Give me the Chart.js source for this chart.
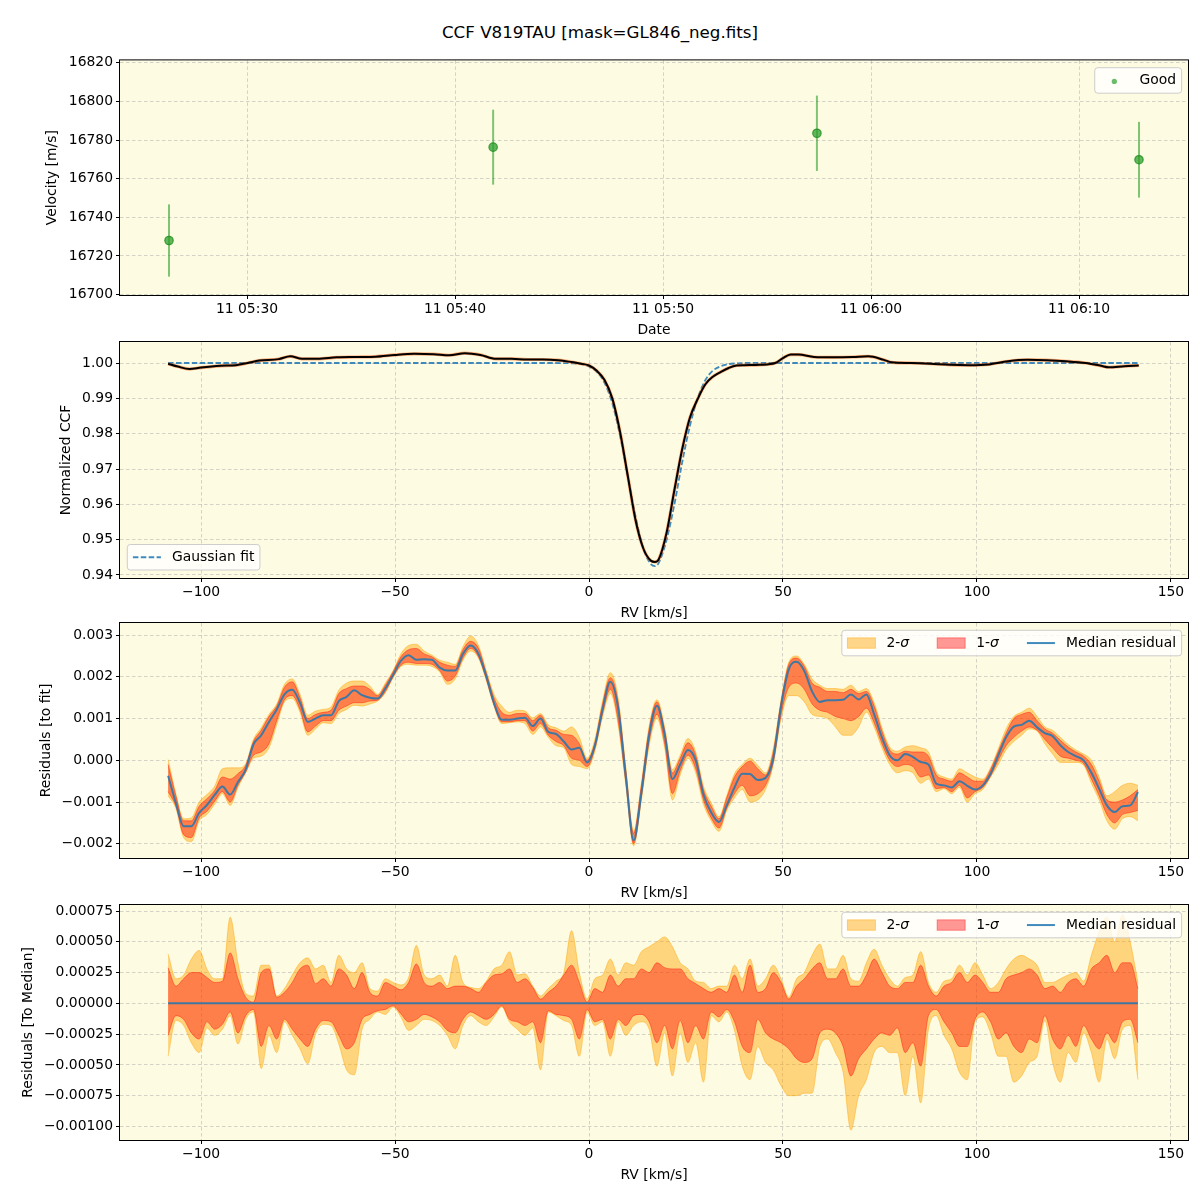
<!DOCTYPE html>
<html>
<head>
<meta charset="utf-8">
<script src="https://cdn.jsdelivr.net/npm/chart.js@4.4.1/dist/chart.umd.min.js"></script>
<style>
  body { margin: 0; background: #fff; width: 1200px; height: 1200px; position: relative; overflow: hidden; font-family: 'DejaVu Sans', sans-serif; }
  canvas { position: absolute; left: 0; }
  #title { position: absolute; top: 22px; left: 0; width: 1200px; text-align: center; font-size: 16.7px; line-height: 20px; color: #000; }
</style>
</head>
<body>
<div id="title">CCF V819TAU [mask=GL846_neg.fits]</div>
<canvas id="c1" width="1200" height="288" style="top:55px"></canvas>
<canvas id="c2" width="1200" height="289" style="top:337px"></canvas>
<canvas id="c3" width="1200" height="288" style="top:618px"></canvas>
<canvas id="c4" width="1200" height="288" style="top:900px"></canvas>
<script>
// ---- panel 1: velocities
const obsTimes = ['05:26:15', '05:41:50', '05:57:24', '06:12:53'];
const obsVel = [16728.0, 16776.3, 16783.5, 16769.8];
const obsErr = [18.7, 19.4, 19.5, 19.6];
const timeTicks = ['05:30', '05:40', '05:50', '06:00', '06:10'];
const velTicks = [16700, 16720, 16740, 16760, 16780, 16800, 16820];

// ---- panel 2: CCF and gaussian fit
const ccfRv = [-108.5, -106, -103, -100, -95, -91, -88, -85, -80, -77, -74, -70, -65, -60, -55, -50, -45, -40, -36, -32,
  -28, -24, -20, -16, -12, -8, -4, -2, 0, 2, 4, 6, 8, 10, 12, 14, 16, 17, 18, 20,
  22, 24, 26, 28, 30, 32, 34, 36, 38, 40, 44, 48, 50, 52, 54, 58, 63, 68, 72, 76,
  78, 83, 88, 93, 98, 103, 108, 113, 118, 123, 128, 132, 134, 138, 141.7];
const ccfVal = [0.9998, 0.9990, 0.9983, 0.9987, 0.9992, 0.9994, 1.0000, 1.0007, 1.0011, 1.0019, 1.0012, 1.0012, 1.0016, 1.0017, 1.0018, 1.0023, 1.0026, 1.0025, 1.0022, 1.0028,
  1.0023, 1.0012, 1.0012, 1.0010, 1.0010, 1.0008, 1.0002, 0.9998, 0.9993, 0.9978, 0.9952, 0.9900, 0.9805, 0.9680, 0.9555, 0.9475, 0.9440, 0.9437, 0.9445, 0.9520,
  0.9640, 0.9755, 0.9845, 0.9898, 0.9940, 0.9962, 0.9975, 0.9986, 0.9993, 0.9994, 0.9995, 1.0000, 1.0014, 1.0024, 1.0024, 1.0017, 1.0016, 1.0017, 1.0019, 1.0009,
  1.0002, 1.0000, 0.9998, 0.9995, 0.9994, 0.9996, 1.0005, 1.0009, 1.0008, 1.0005, 1.0000, 0.9992, 0.9988, 0.9991, 0.9993];
const gaussRv = [-108.5, -10, -4, -2, 0, 2, 4, 6, 8, 10, 12, 14, 16, 17, 18, 20, 22, 24, 26, 28, 30, 32, 34, 36, 38, 40, 141.7];
const gaussVal = [1.0, 1.0, 0.9999, 0.9997, 0.9990, 0.9975, 0.9944, 0.9886, 0.9795, 0.9680, 0.9565, 0.9475, 0.9430, 0.9425, 0.9435, 0.9500, 0.9600, 0.9718, 0.9822, 0.9900,
  0.9952, 0.9979, 0.9991, 0.9997, 0.9999, 1.0, 1.0];
const ccfTicks = [0.94, 0.95, 0.96, 0.97, 0.98, 0.99, 1.00];

// ---- residual grid (km/s)
const rvGrid = [-108.5, -106.5, -104.5, -102.5, -100.5, -98.5, -96.5, -94.5, -92.5, -90.5,
  -88.5, -86.5, -84.5, -82.5, -80.5, -78.5, -76.5, -74.5, -72.5, -70.5,
  -68.5, -66.5, -64.5, -62.5, -60.5, -58.5, -56.5, -54.5, -52.5, -50.5,
  -48.5, -46.5, -44.5, -42.5, -40.5, -38.5, -36.5, -34.5, -32.5, -30.5,
  -28.5, -26.5, -24.5, -22.5, -20.5, -18.5, -16.5, -14.5, -12.5, -10.5,
  -8.5, -6.5, -4.5, -2.5, -0.5, 1.5, 3.5, 5.5, 7.5, 9.5,
  11.5, 13.5, 15.5, 17.5, 19.5, 21.5, 23.5, 25.5, 27.5, 29.5,
  31.5, 33.5, 35.5, 37.5, 39.5, 41.5, 43.5, 45.5, 47.5, 49.5,
  51.5, 53.5, 55.5, 57.5, 59.5, 61.5, 63.5, 65.5, 67.5, 69.5,
  71.5, 73.5, 75.5, 77.5, 79.5, 81.5, 83.5, 85.5, 87.5, 89.5,
  91.5, 93.5, 95.5, 97.5, 99.5, 101.5, 103.5, 105.5, 107.5, 109.5,
  111.5, 113.5, 115.5, 117.5, 119.5, 121.5, 123.5, 125.5, 127.5, 129.5,
  131.5, 133.5, 135.5, 137.5, 139.5, 141.5];

// ---- panel 3: residuals to fit, in units of 1e-3
const fitMedian = [-0.37, -1.02, -1.58, -1.58, -1.26, -1.07, -0.83, -0.63, -0.82, -0.52,
  -0.22, 0.38, 0.60, 0.92, 1.22, 1.58, 1.69, 1.38, 0.92, 1.00,
  1.08, 1.08, 1.42, 1.52, 1.68, 1.56, 1.50, 1.48, 1.72, 2.05,
  2.38, 2.52, 2.41, 2.42, 2.41, 2.22, 2.15, 2.15, 2.55, 2.75,
  2.55, 2.02, 1.38, 0.97, 0.97, 1.00, 1.02, 0.82, 1.00, 0.68,
  0.63, 0.45, 0.26, 0.30, -0.05, 0.35, 1.22, 1.88, 1.25, -0.40,
  -1.92, -0.78, 0.60, 1.31, 0.62, -0.45, -0.10, 0.25, 0.00, -0.82,
  -1.25, -1.48, -1.08, -0.65, -0.32, -0.33, -0.47, -0.42, 0.05, 1.30,
  2.18, 2.36, 2.14, 1.65, 1.40, 1.44, 1.44, 1.45, 1.58, 1.46,
  1.58, 1.10, 0.55, 0.12, 0.00, 0.15, 0.08, -0.04, -0.10, -0.56,
  -0.60, -0.65, -0.50, -0.61, -0.70, -0.60, -0.32, 0.12, 0.55, 0.81,
  0.85, 0.95, 0.79, 0.65, 0.58, 0.36, 0.20, 0.10, 0.00, -0.30,
  -0.68, -1.08, -1.24, -1.10, -1.08, -0.76];
const fitLo2 = [-0.85, -1.15, -1.85, -1.95, -1.45, -1.30, -1.05, -0.80, -1.08, -0.65,
  -0.30, 0.05, 0.10, 0.30, 0.85, 1.40, 1.48, 1.15, 0.60, 0.75,
  0.90, 0.88, 1.12, 1.22, 1.32, 1.30, 1.35, 1.42, 1.62, 1.98,
  2.25, 2.30, 2.28, 2.28, 2.25, 2.12, 1.82, 1.95, 2.40, 2.62,
  2.45, 1.92, 1.30, 0.88, 0.90, 0.92, 0.88, 0.62, 0.80, 0.55,
  0.35, 0.30, -0.10, -0.15, -0.20, 0.22, 1.05, 1.60, 0.85, -0.60,
  -2.05, -0.95, 0.35, 1.00, 0.30, -0.95, -0.35, 0.05, -0.30, -1.05,
  -1.45, -1.70, -1.20, -0.90, -0.70, -1.00, -0.95, -0.70, -0.10, 1.00,
  1.55, 1.55, 1.40, 1.10, 1.05, 1.00, 0.80, 0.60, 0.60, 0.80,
  1.15, 0.80, 0.30, -0.10, -0.30, -0.25, -0.30, -0.55, -0.45, -0.75,
  -0.68, -0.80, -0.65, -1.00, -0.80, -0.70, -0.40, -0.10, 0.25, 0.45,
  0.60, 0.75, 0.70, 0.40, 0.15, -0.05, -0.05, -0.05, -0.12, -0.55,
  -0.95, -1.45, -1.65, -1.40, -1.35, -1.45];
const fitLo1 = [-0.75, -1.10, -1.78, -1.85, -1.38, -1.22, -0.98, -0.75, -1.00, -0.60,
  -0.28, 0.12, 0.20, 0.40, 0.95, 1.45, 1.55, 1.22, 0.68, 0.82,
  0.95, 0.95, 1.20, 1.30, 1.38, 1.38, 1.42, 1.44, 1.65, 2.00,
  2.28, 2.35, 2.32, 2.32, 2.30, 2.15, 1.90, 2.02, 2.45, 2.68,
  2.48, 1.95, 1.32, 0.92, 0.92, 0.95, 0.95, 0.70, 0.88, 0.60,
  0.45, 0.35, 0.05, 0.00, -0.15, 0.28, 1.12, 1.70, 0.95, -0.55,
  -2.00, -0.88, 0.45, 1.10, 0.40, -0.80, -0.25, 0.12, -0.20, -0.95,
  -1.38, -1.62, -1.15, -0.80, -0.60, -0.85, -0.80, -0.60, -0.05, 1.10,
  1.75, 1.85, 1.70, 1.35, 1.20, 1.15, 1.05, 1.00, 0.95, 1.05,
  1.25, 0.90, 0.40, 0.00, -0.15, -0.10, -0.15, -0.40, -0.35, -0.68,
  -0.65, -0.75, -0.60, -0.90, -0.75, -0.65, -0.38, 0.00, 0.35, 0.55,
  0.70, 0.80, 0.72, 0.50, 0.30, 0.10, 0.05, 0.00, -0.08, -0.45,
  -0.85, -1.30, -1.50, -1.30, -1.25, -1.20];
const fitHi1 = [-0.10, -0.85, -1.45, -1.45, -1.10, -0.92, -0.72, -0.40, -0.45, -0.32,
  -0.12, 0.45, 0.72, 1.05, 1.30, 1.75, 1.88, 1.50, 1.00, 1.10,
  1.15, 1.20, 1.60, 1.72, 1.78, 1.78, 1.70, 1.55, 1.80, 2.12,
  2.48, 2.65, 2.68, 2.55, 2.48, 2.35, 2.28, 2.25, 2.65, 2.85,
  2.68, 2.10, 1.50, 1.15, 1.08, 1.12, 1.12, 0.95, 1.08, 0.78,
  0.72, 0.62, 0.60, 0.40, 0.00, 0.42, 1.35, 1.98, 1.40, -0.25,
  -1.75, -0.60, 0.75, 1.40, 0.72, -0.30, 0.05, 0.42, 0.12, -0.70,
  -1.10, -1.40, -0.90, -0.40, -0.15, -0.02, -0.20, -0.35, 0.20, 1.40,
  2.30, 2.45, 2.25, 1.85, 1.75, 1.65, 1.65, 1.62, 1.70, 1.60,
  1.65, 1.30, 0.70, 0.25, 0.15, 0.22, 0.20, 0.20, 0.10, -0.35,
  -0.45, -0.50, -0.30, -0.40, -0.50, -0.50, -0.22, 0.22, 0.65, 1.00,
  1.10, 1.15, 0.95, 0.75, 0.65, 0.48, 0.32, 0.20, 0.10, -0.10,
  -0.50, -0.95, -1.00, -0.95, -0.85, -0.70];
const fitHi2 = [0.02, -0.80, -1.40, -1.38, -1.00, -0.82, -0.62, -0.20, -0.18, -0.18,
  -0.08, 0.50, 0.78, 1.10, 1.35, 1.82, 1.95, 1.58, 1.08, 1.18,
  1.22, 1.28, 1.68, 1.85, 1.90, 1.90, 1.78, 1.58, 1.85, 2.15,
  2.55, 2.75, 2.78, 2.62, 2.52, 2.40, 2.35, 2.30, 2.72, 2.98,
  2.75, 2.15, 1.58, 1.30, 1.15, 1.20, 1.18, 1.02, 1.12, 0.85,
  0.78, 0.70, 0.80, 0.55, 0.05, 0.50, 1.42, 2.10, 1.50, -0.18,
  -1.70, -0.55, 0.82, 1.45, 0.80, -0.22, 0.12, 0.52, 0.20, -0.62,
  -1.02, -1.35, -0.85, -0.32, -0.10, 0.05, -0.12, -0.30, 0.28, 1.45,
  2.35, 2.50, 2.30, 1.95, 1.80, 1.72, 1.72, 1.70, 1.80, 1.65,
  1.72, 1.38, 0.78, 0.32, 0.22, 0.32, 0.35, 0.30, 0.20, -0.28,
  -0.40, -0.45, -0.20, -0.30, -0.40, -0.45, -0.18, 0.28, 0.75, 1.05,
  1.15, 1.25, 1.05, 0.80, 0.72, 0.55, 0.38, 0.25, 0.15, 0.00,
  -0.40, -0.85, -0.75, -0.60, -0.55, -0.60];
const fitTicks = [-0.002, -0.001, 0.000, 0.001, 0.002, 0.003];

// ---- panel 4: residuals to median, in units of 1e-4
const medRv = [-108.5, 141.5];
const medLine = [0, 0];
const medHi1 = [2.9, 1.4, 2.0, 2.5, 2.5, 2.1, 1.7, 1.8, 4.1, 2.0,
  0.5, 0.1, 2.5, 2.8, 0.5, 0.9, 1.7, 2.8, 3.1, 1.6,
  2.0, 1.4, 2.8, 2.3, 1.2, 2.5, 0.9, 0.6, 1.7, 1.4,
  1.1, 1.7, 3.2, 1.7, 1.4, 1.7, 1.2, 1.4, 1.4, 1.2,
  0.9, 1.7, 2.3, 2.4, 2.8, 1.7, 2.0, 1.3, 0.35, 0.9,
  1.4, 2.3, 3.1, 1.7, 0.1, 1.2, 0.9, 2.3, 1.4, 2.0,
  2.0, 2.8, 2.5, 3.3, 2.9, 2.8, 2.8, 2.0, 1.6, 1.2,
  0.9, 1.2, 0.9, 2.3, 0.9, 3.1, 0.9, 1.2, 2.5, 1.7,
  0.35, 1.4, 2.0, 2.8, 3.3, 2.0, 2.0, 2.8, 1.4, 1.4,
  2.3, 3.6, 2.5, 1.4, 1.2, 1.7, 1.7, 3.1, 1.4, 0.6,
  1.4, 1.7, 2.5, 1.7, 2.3, 1.7, 0.9, 0.9, 2.0, 2.3,
  2.5, 2.8, 2.3, 1.2, 1.4, 0.9, 1.7, 2.0, 1.4, 2.8,
  3.3, 3.9, 2.5, 3.3, 3.3, 1.2];
const medHi2 = [4.0, 2.0, 2.3, 3.6, 4.3, 2.8, 2.0, 2.0, 7.0, 3.3,
  0.8, 0.6, 3.1, 3.1, 0.6, 1.2, 2.3, 3.3, 3.7, 2.8,
  3.1, 1.7, 3.9, 2.8, 2.5, 3.3, 1.2, 1.0, 2.0, 1.7,
  1.5, 2.1, 4.7, 2.3, 2.0, 2.3, 1.4, 3.9, 1.7, 1.3,
  1.2, 1.8, 2.8, 3.1, 4.2, 2.3, 2.4, 1.4, 0.6, 1.2,
  1.8, 2.5, 5.9, 2.5, 0.35, 2.0, 2.3, 3.6, 2.3, 3.3,
  3.1, 4.2, 4.6, 5.0, 5.4, 4.6, 3.3, 2.8, 1.8, 1.7,
  1.2, 1.4, 1.4, 3.1, 2.0, 3.6, 1.4, 2.0, 3.1, 2.0,
  0.5, 2.0, 2.5, 3.9, 4.8, 2.8, 2.8, 3.9, 2.0, 1.8,
  3.3, 4.4, 3.1, 2.0, 1.4, 2.1, 2.3, 4.2, 1.7, 0.9,
  1.8, 2.0, 3.1, 2.3, 3.3, 2.3, 1.2, 1.7, 2.8, 3.6,
  3.9, 3.6, 3.1, 1.7, 1.7, 2.0, 2.3, 2.5, 1.8, 3.9,
  5.8, 7.0, 5.0, 7.2, 5.0, 1.7];
const medLo1 = [-2.6, -1.0, -1.3, -2.4, -2.9, -1.5, -2.1, -1.7, -0.7, -2.4,
  -1.0, -0.5, -3.5, -1.8, -2.9, -1.3, -2.1, -2.9, -3.5, -2.1,
  -1.4, -1.5, -2.6, -3.7, -3.2, -1.3, -0.9, -0.6, -0.5, -0.2,
  -0.85, -1.5, -1.3, -0.9, -1.1, -1.5, -2.2, -2.4, -1.3, -0.7,
  -1.0, -1.3, -0.9, -0.2, -1.3, -1.5, -1.8, -1.5, -3.2, -0.6,
  -0.9, -1.0, -1.3, -2.9, -0.5, -1.5, -1.3, -2.9, -1.3, -1.8,
  -1.0, -0.9, -1.5, -3.2, -1.8, -3.7, -1.4, -3.2, -1.8, -2.9,
  -0.7, -1.1, -0.5, -1.5, -3.5, -4.0, -1.3, -2.4, -2.9, -3.2,
  -3.7, -4.5, -4.8, -4.5, -2.4, -2.1, -2.4, -3.5, -5.9, -4.5,
  -3.7, -2.9, -2.4, -2.6, -2.0, -4.0, -3.2, -5.1, -1.0, -0.5,
  -1.5, -2.4, -3.5, -3.5, -1.3, -0.7, -1.5, -2.9, -2.4, -3.5,
  -4.0, -2.9, -3.2, -1.0, -2.9, -3.7, -2.6, -3.5, -1.8, -2.9,
  -3.7, -2.4, -3.2, -1.5, -1.3, -3.2];
const medLo2 = [-4.3, -1.4, -1.8, -3.2, -4.0, -2.0, -2.6, -2.1, -1.0, -3.3,
  -1.3, -0.7, -5.3, -2.6, -4.0, -1.5, -2.6, -3.7, -4.9, -2.5,
  -1.7, -1.8, -3.3, -5.4, -5.8, -2.1, -1.3, -0.7, -0.9, -0.3,
  -1.1, -2.2, -1.8, -1.3, -1.4, -1.8, -2.6, -3.7, -1.8, -1.0,
  -1.5, -1.8, -1.1, -0.3, -1.5, -2.1, -2.6, -2.0, -5.4, -0.7,
  -1.0, -1.4, -1.8, -4.3, -0.7, -1.8, -1.5, -4.3, -1.5, -2.6,
  -1.8, -1.5, -2.1, -5.1, -2.4, -5.9, -2.4, -4.8, -3.2, -6.4,
  -1.0, -1.5, -0.7, -2.2, -5.1, -6.2, -3.5, -4.8, -5.4, -6.7,
  -7.5, -7.5, -7.3, -7.3, -3.5, -2.9, -4.0, -5.6, -10.3, -7.5,
  -6.2, -4.0, -3.5, -4.0, -4.0, -7.5, -4.3, -8.1, -2.1, -1.0,
  -2.6, -3.7, -5.6, -6.2, -1.5, -1.1, -2.4, -4.3, -4.3, -6.4,
  -5.9, -4.8, -4.3, -1.4, -4.8, -6.4, -4.0, -4.8, -2.4, -4.0,
  -6.4, -2.9, -4.5, -2.1, -1.8, -6.2];
const medTicks = [-0.001, -0.00075, -0.0005, -0.00025, 0, 0.00025, 0.0005, 0.00075];
const rvTicks = [-100, -50, 0, 50, 100, 150];

// ---- shared helpers
const FONT = 'DejaVu Sans';
const FS = 13.9;
const BG = '#fdfbe2';
const C_2SIG = 'rgba(255,165,0,0.45)';
const C_1SIG = 'rgba(255,0,0,0.4)';
const C_MED = 'rgba(31,119,180,0.85)';
Chart.defaults.font.family = FONT;
Chart.defaults.color = '#000';

const toMin = t => { const p = t.split(':').map(Number); return p[0] * 60 + p[1] + (p[2] || 0) / 60; };
const pts = (xs, ys, k) => xs.map((x, i) => ({ x: x, y: ys[i] * (k || 1) }));
const minus = s => s.replace('-', '\u2212');

const bgPlugin = {
  id: 'axbg',
  beforeDraw(chart) {
    const a = chart.chartArea, ctx = chart.ctx;
    ctx.save();
    ctx.fillStyle = BG;
    ctx.fillRect(a.left, a.top, a.right - a.left, a.bottom - a.top);
    ctx.restore();
  },
  afterDraw(chart) {
    const a = chart.chartArea, ctx = chart.ctx;
    ctx.save();
    ctx.strokeStyle = '#000';
    ctx.lineWidth = 1;
    ctx.strokeRect(a.left - 0.5, a.top - 0.5, a.right - a.left + 1, a.bottom - a.top + 1);
    ctx.restore();
  }
};

function drawLegend(chart, spec) {
  const ctx = chart.ctx, a = chart.chartArea;
  const pad = 5.6, hl = 28, htp = 11.1, sep = 28, bh = 25.5;
  const fN = FS + 'px "' + FONT + '"', fI = 'italic ' + fN;
  ctx.save();
  const widths = spec.items.map(it => it.label.reduce((w, p) => { ctx.font = p.it ? fI : fN; return w + ctx.measureText(p.t).width; }, 0));
  const bw = pad * 2 + widths.reduce((s, w) => s + hl + htp + w, 0) + sep * (spec.items.length - 1);
  const bx = spec.corner === 'ur' ? a.right - 6.4 - bw : a.left + 7.3;
  const by = spec.corner === 'ur' ? a.top + 7.3 : a.bottom - 8 - bh;
  ctx.beginPath();
  ctx.roundRect(bx, by, bw, bh, 3);
  ctx.fillStyle = 'rgba(255,255,255,0.8)';
  ctx.fill();
  ctx.strokeStyle = 'rgba(200,200,200,0.9)';
  ctx.lineWidth = 1;
  ctx.stroke();
  const cy = by + bh / 2;
  let x = bx + pad;
  spec.items.forEach(it => {
    if (it.kind === 'patch') {
      ctx.fillStyle = it.color; ctx.fillRect(x, cy - 5.2, hl, 10.4);
      ctx.strokeStyle = it.color; ctx.lineWidth = 1; ctx.strokeRect(x, cy - 5.2, hl, 10.4);
    } else if (it.kind === 'line' || it.kind === 'dash') {
      ctx.strokeStyle = it.color; ctx.lineWidth = it.kind === 'dash' ? 1.8 : 2;
      ctx.setLineDash(it.kind === 'dash' ? [5.5, 2.4] : []);
      ctx.beginPath(); ctx.moveTo(x, cy); ctx.lineTo(x + hl, cy); ctx.stroke();
      ctx.setLineDash([]);
    } else if (it.kind === 'dot') {
      ctx.fillStyle = it.color; ctx.beginPath(); ctx.arc(x + hl / 2, cy + 1, 2.6, 0, Math.PI * 2); ctx.fill();
    }
    x += hl + htp;
    ctx.fillStyle = '#000'; ctx.textBaseline = 'middle'; ctx.textAlign = 'left';
    it.label.forEach(p => { ctx.font = p.it ? fI : fN; ctx.fillText(p.t, x, cy); x += ctx.measureText(p.t).width; });
    x += sep;
  });
  ctx.restore();
}
const legendPlugin = spec => ({ id: 'mplLegend', afterDraw(chart) { drawLegend(chart, spec); } });

const gridOpts = { color: 'rgba(165,165,165,0.6)', lineWidth: 0.8, drawTicks: true, tickLength: 4, tickColor: '#000', tickWidth: 1, tickBorderDash: [] };
const borderOpts = { display: false, dash: [3.5, 2.5] };

// fixed axis boxes so the plot areas line up with the reference
const noPad = s => { s.paddingTop = 0; s.paddingBottom = 0; s.paddingLeft = 0; s.paddingRight = 0; };

function scales(o) {
  return {
    x: {
      type: 'linear', min: o.xMin, max: o.xMax,
      afterBuildTicks: s => { s.ticks = o.xTicks.map(v => ({ value: v })); },
      afterFit: s => { s.height = 48; noPad(s); },
      ticks: { callback: o.xFmt, font: { size: FS }, color: '#000', padding: 2, maxRotation: 0, autoSkip: false },
      grid: gridOpts, border: borderOpts,
      title: { display: true, text: o.xTitle, font: { size: FS }, color: '#000', padding: { top: 0, bottom: 4.6 } }
    },
    y: {
      type: 'linear', min: o.yMin, max: o.yMax,
      afterBuildTicks: s => { s.ticks = o.yTicks.map(v => ({ value: v })); },
      afterFit: s => { s.width = 120; noPad(s); },
      ticks: { callback: o.yFmt, font: { size: FS }, color: '#000', padding: 3, autoSkip: false },
      grid: gridOpts, border: borderOpts,
      title: { display: true, text: o.yTitle, font: { size: FS }, color: '#000', padding: { top: o.yTitleX - 8.3, bottom: 0 } }
    }
  };
}
const baseOpts = (sc) => ({
  responsive: false, animation: false, devicePixelRatio: 1,
  layout: { padding: { top: 5, right: 12, bottom: 0, left: 0 } },
  plugins: { legend: { display: false }, tooltip: { enabled: false } },
  scales: sc
});
const rvFmt = v => minus(String(v));
const lineDs = (data, color, width, extra) => Object.assign({ data: data, borderColor: color, borderWidth: width, pointRadius: 0, fill: false, cubicInterpolationMode: 'monotone' }, extra || {});

// ---- chart 1
const errPlugin = {
  id: 'errbars',
  beforeDatasetsDraw(chart) {
    const xs = chart.scales.x, ys = chart.scales.y, ctx = chart.ctx;
    ctx.save();
    ctx.strokeStyle = 'rgba(44,160,44,0.6)';
    ctx.lineWidth = 2;
    obsTimes.forEach((t, i) => {
      const px = xs.getPixelForValue(toMin(t));
      ctx.beginPath();
      ctx.moveTo(px, ys.getPixelForValue(obsVel[i] - obsErr[i]));
      ctx.lineTo(px, ys.getPixelForValue(obsVel[i] + obsErr[i]));
      ctx.stroke();
    });
    ctx.restore();
  }
};
new Chart(document.getElementById('c1'), {
  type: 'scatter',
  data: { datasets: [{
    data: obsTimes.map((t, i) => ({ x: toMin(t), y: obsVel[i] })),
    pointRadius: 4.2, pointBackgroundColor: 'rgba(44,160,44,0.75)', pointBorderColor: 'rgba(30,140,30,0.8)', pointBorderWidth: 1.2, showLine: false
  }] },
  options: baseOpts(scales({
    xMin: 323.894, xMax: 375.24, xTicks: timeTicks.map(toMin), xTitle: 'Date',
    xFmt: (v, i) => '11 ' + timeTicks[i],
    yMin: 16699.8, yMax: 16821.2, yTicks: velTicks, yFmt: v => String(v), yTitle: 'Velocity [m/s]', yTitleX: 52.5
  })),
  plugins: [bgPlugin, errPlugin, legendPlugin({ corner: 'ur', items: [{ kind: 'dot', color: 'rgba(44,160,44,0.7)', label: [{ t: 'Good' }] }] })]
});

// ---- chart 2
new Chart(document.getElementById('c2'), {
  type: 'line',
  data: { datasets: [
    lineDs(pts(ccfRv, ccfVal), '#000', 2),
    lineDs(pts(ccfRv, ccfVal), 'rgba(255,100,20,0.55)', 3.2),
    lineDs(pts(gaussRv, gaussVal), 'rgba(31,119,180,0.85)', 1.8, { borderDash: [5.5, 2.4] })
  ] },
  options: baseOpts(scales({
    xMin: -120.9, xMax: 154.4, xTicks: rvTicks, xFmt: rvFmt, xTitle: 'RV [km/s]',
    yMin: 0.93915, yMax: 1.00595, yTicks: ccfTicks, yFmt: v => v.toFixed(2), yTitle: 'Normalized CCF', yTitleX: 66
  })),
  plugins: [bgPlugin, legendPlugin({ corner: 'll', items: [{ kind: 'dash', color: 'rgba(31,119,180,0.85)', label: [{ t: 'Gaussian fit' }] }] })]
});

// ---- chart 3 & 4
const sigmaLegend = [
  { kind: 'patch', color: C_2SIG, label: [{ t: '2-' }, { t: '\u03c3', it: true }] },
  { kind: 'patch', color: C_1SIG, label: [{ t: '1-' }, { t: '\u03c3', it: true }] },
  { kind: 'line', color: C_MED, label: [{ t: 'Median residual' }] }
];
function bandSets(mRv, mVal, lo2, lo1, hi1, hi2, k) {
  return [
    lineDs(pts(mRv, mVal, k), C_MED, 2),
    lineDs(pts(rvGrid, hi1, k), C_1SIG, 1, { fill: '+1', backgroundColor: C_1SIG }),
    lineDs(pts(rvGrid, lo1, k), C_1SIG, 1),
    lineDs(pts(rvGrid, hi2, k), C_2SIG, 1, { fill: '+1', backgroundColor: C_2SIG }),
    lineDs(pts(rvGrid, lo2, k), C_2SIG, 1)
  ];
}
new Chart(document.getElementById('c3'), {
  type: 'line',
  data: { datasets: bandSets(rvGrid, fitMedian, fitLo2, fitLo1, fitHi1, fitHi2, 1e-3) },
  options: baseOpts(scales({
    xMin: -120.9, xMax: 154.4, xTicks: rvTicks, xFmt: rvFmt, xTitle: 'RV [km/s]',
    yMin: -0.00234, yMax: 0.00329, yTicks: fitTicks, yFmt: v => minus(v.toFixed(3)), yTitle: 'Residuals [to fit]', yTitleX: 46
  })),
  plugins: [bgPlugin, legendPlugin({ corner: 'ur', items: sigmaLegend })]
});
new Chart(document.getElementById('c4'), {
  type: 'line',
  data: { datasets: bandSets(medRv, medLine, medLo2, medLo1, medHi1, medHi2, 1e-4) },
  options: baseOpts(scales({
    xMin: -120.9, xMax: 154.4, xTicks: rvTicks, xFmt: rvFmt, xTitle: 'RV [km/s]',
    yMin: -0.00111, yMax: 0.000799, yTicks: medTicks, yFmt: v => minus(v.toFixed(5)), yTitle: 'Residuals [To Median]', yTitleX: 28
  })),
  plugins: [bgPlugin, legendPlugin({ corner: 'ur', items: sigmaLegend })]
});
</script>
</body>
</html>
